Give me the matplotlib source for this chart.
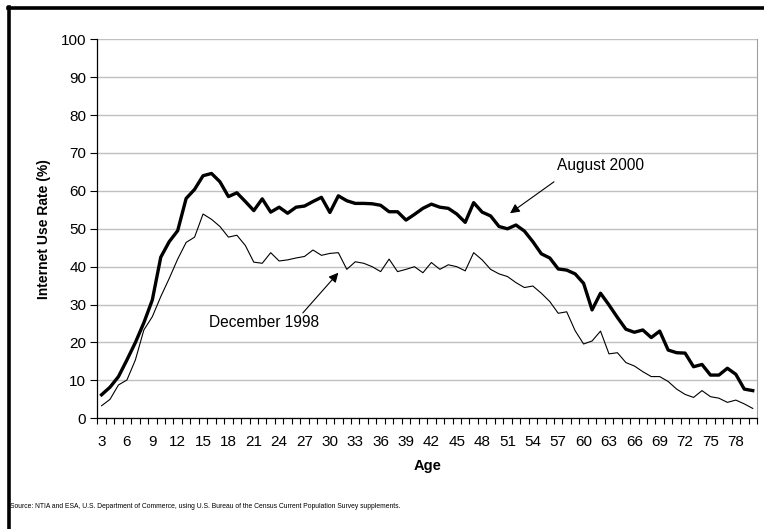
import matplotlib
matplotlib.use("Agg")
import matplotlib.pyplot as plt
from matplotlib.lines import Line2D
import numpy as np

plt.rcParams['font.family'] = ['Liberation Sans', 'DejaVu Sans']

# Internet use rate (%) by age, ages 3..80
ages = list(range(3, 81))
aug_2000 = [6.2, 8.2, 11.0, 15.4, 20.0, 25.2, 31.2, 42.5, 46.6, 49.5,
            58.0, 60.4, 64.0, 64.6, 62.4, 58.5, 59.5, 57.2, 54.8, 57.9,
            54.4, 55.7, 54.1, 55.7, 56.0, 57.2, 58.3, 54.3, 58.7, 57.4,
            56.7, 56.7, 56.6, 56.2, 54.5, 54.5, 52.3, 53.8, 55.4, 56.5,
            55.7, 55.4, 53.9, 51.7, 56.9, 54.4, 53.4, 50.6, 50.0, 51.0,
            49.4, 46.6, 43.4, 42.3, 39.4, 39.1, 38.1, 35.6, 28.6, 33.0,
            29.9, 26.6, 23.5, 22.7, 23.3, 21.3, 23.0, 18.0, 17.3, 17.2,
            13.6, 14.2, 11.4, 11.4, 13.2, 11.6, 7.7, 7.3]
dec_1998 = [3.3, 5.0, 8.8, 10.1, 15.4, 23.3, 26.8, 32.1, 36.9, 42.0,
            46.4, 47.8, 53.9, 52.5, 50.6, 47.8, 48.3, 45.6, 41.2, 40.9,
            43.7, 41.5, 41.8, 42.3, 42.7, 44.4, 43.0, 43.5, 43.7, 39.3,
            41.3, 40.9, 40.0, 38.7, 42.0, 38.7, 39.3, 40.0, 38.4, 41.1,
            39.3, 40.5, 40.0, 38.9, 43.7, 41.8, 39.3, 38.1, 37.4, 35.8,
            34.5, 34.9, 33.0, 30.8, 27.7, 28.1, 23.1, 19.6, 20.4, 23.0,
            17.0, 17.3, 14.7, 13.8, 12.3, 11.0, 11.0, 9.7, 7.7, 6.3,
            5.5, 7.3, 5.7, 5.3, 4.2, 4.8, 3.8, 2.6]
tick_ages = list(range(3, 79, 3))

fig = plt.figure(figsize=(7.64, 5.29), dpi=100)
ax = fig.add_axes([0.1274, 0.2093, 0.8634, 0.7164])

ax.plot(ages, aug_2000, color='black', lw=2.4, solid_joinstyle='round', zorder=3)
ax.plot(ages, dec_1998, color='black', lw=0.8, zorder=3)

ax.set_xlim(2.5, 80.5)
ax.set_ylim(0, 100)
ax.set_yticks(np.arange(0, 101, 10))
ax.set_xticks(tick_ages)
ax.set_xticks(np.arange(2.5, 81, 1), minor=True)
ax.tick_params(axis='x', which='major', length=0, pad=12, labelsize=11)
ax.tick_params(axis='x', which='minor', length=4, width=0.8, direction='out')
ax.tick_params(axis='y', length=5, width=0.8, labelsize=11, pad=3)
ax.yaxis.grid(True, color='#c0c0c0', lw=1)
ax.set_axisbelow(True)

ax.spines['top'].set_visible(False)
ax.spines['right'].set_color('#a0a0a0')
ax.spines['left'].set_linewidth(0.9)
ax.spines['bottom'].set_linewidth(0.9)

ax.set_xlabel('Age', fontsize=10.5, fontweight='bold', labelpad=7)
ax.set_ylabel('Internet Use Rate (%)', fontsize=10, fontweight='bold', labelpad=7)

arrow = dict(arrowstyle='-|>', color='black', lw=0.8, mutation_scale=14, shrinkA=0, shrinkB=0)
ax.text(56.9, 66.8, 'August 2000', fontsize=11.2, va='center', ha='left')
ax.annotate('', xy=(51.3, 54.1), xytext=(56.5, 62.4), arrowprops=arrow)
ax.text(15.7, 25.4, 'December 1998', fontsize=11.2, va='center', ha='left')
ax.annotate('', xy=(31.0, 38.4), xytext=(26.8, 27.8), arrowprops=arrow)

fig.text(0.013, 0.042, 'Source: NTIA and ESA, U.S. Department of Commerce, using U.S. Bureau of the Census '
         'Current Population Survey supplements.', fontsize=4.85, ha='left', va='center')

# thick outer frame (top and left edges visible)
fig.add_artist(Line2D([0.0105, 1.0], [0.9845, 0.9845], color='black', lw=2.6, transform=fig.transFigure))
fig.add_artist(Line2D([0.0115, 0.0115], [0.0, 0.986], color='black', lw=2.6, transform=fig.transFigure))

fig.savefig('out.png', dpi=100)
